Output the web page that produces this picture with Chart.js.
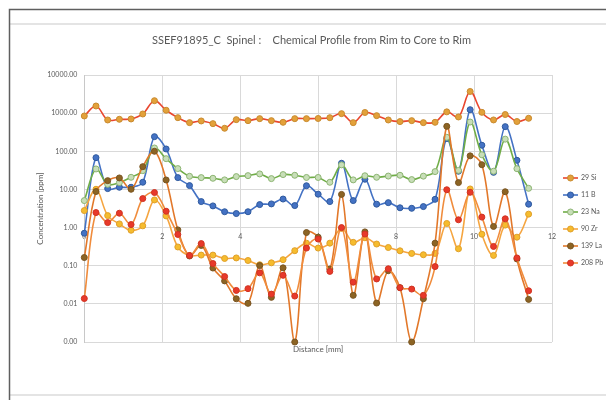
<!DOCTYPE html>
<html>
<head>
<meta charset="utf-8">
<script src="https://cdn.jsdelivr.net/npm/chart.js@4.4.1/dist/chart.umd.min.js"></script>
<style>
  html, body { margin: 0; padding: 0; background: #fff; }
  #wrap { width: 606px; height: 400px; position: relative; }
</style>
</head>
<body>
<div id="wrap"><canvas id="c" width="606" height="400"></canvas></div>
<script>
// Measurement positions along the traverse [mm]
const distance = [0, 0.3, 0.6, 0.9, 1.2, 1.5, 1.8, 2.1, 2.4, 2.7,
                  3.0, 3.3, 3.6, 3.9, 4.2, 4.5, 4.8, 5.1, 5.4, 5.7,
                  6.0, 6.3, 6.6, 6.9, 7.2, 7.5, 7.8, 8.1, 8.4, 8.7,
                  9.0, 9.3, 9.6, 9.9, 10.2, 10.5, 10.8, 11.1, 11.4];

// Concentrations [ppm] per isotope
const si29 = [843, 1540, 662, 690, 703, 950, 2120, 1190, 762, 564,
              624, 531, 401, 676, 636, 718, 636, 575, 718, 718,
              725, 760, 970, 564, 1040, 860, 662, 600, 636, 564,
              575, 1080, 794, 3700, 1050, 663, 920, 603, 733];
const b11 = [0.71, 68, 10.5, 11.4, 11.4, 15.4, 242, 115, 20.4, 12.6,
             4.8, 3.7, 2.6, 2.33, 2.6, 4.0, 4.17, 5.6, 3.77, 12.5,
             7.5, 4.8, 48.5, 5.1, 18.5, 4.1, 4.5, 3.3, 3.2, 3.55,
             5.5, 215, 30, 1230, 144, 28, 443, 58, 4.1];
const na23 = [5.1, 34.4, 13.6, 15.1, 20.8, 31.1, 122, 64, 35.2, 22.1,
              20.4, 19.6, 17.8, 21.7, 23.0, 25.5, 19.2, 24.5, 23.5, 20.6,
              20.6, 15.4, 44, 17.8, 22.8, 20.8, 22.4, 23.5, 18.1, 22.3,
              29.3, 233, 31.5, 585, 81, 30, 208, 35, 10.7];
const zr90 = [2.79, 10.1, 2.06, 1.25, 0.85, 1.11, 5.3, 2.02, 0.31, 0.185,
              0.19, 0.19, 0.155, 0.16, 0.137, 0.106, 0.119, 0.144, 0.248, 0.39,
              0.29, 0.39, 0.95, 0.41, 0.54, 0.37, 0.30, 0.246, 0.21, 0.194,
              0.21, 1.28, 0.278, 10.3, 0.67, 0.186, 1.16, 0.56, 2.25];
const la139 = [0.164, 8.8, 17.0, 20.0, 10.1, 39.6, 100, 17.7, 0.87, 0.18,
               0.34, 0.087, 0.040, 0.0136, 0.0103, 0.101, 0.0148, 0.088, 0.001, 0.74,
               0.56, 0.082, 7.4, 0.0167, 0.77, 0.0105, 0.074, 0.0265, 0.001, 0.0136,
               0.39, 450, 15.1, 76, 44.5, 1.07, 8.7, 0.15, 0.0131];
const pb208 = [0.0138, 2.47, 1.35, 2.38, 1.20, 5.75, 8.3, 2.68, 0.66, 0.185,
               0.38, 0.114, 0.052, 0.0225, 0.025, 0.065, 0.018, 0.056, 0.016, 0.29,
               0.50, 0.071, 1.0, 0.037, 0.675, 0.045, 0.083, 0.0265, 0.0244, 0.0167,
               0.095, 9.8, 1.6, 8.4, 1.88, 0.32, 1.70, 0.16, 0.022];

// Axis tick values
const yTicks = [0.001, 0.01, 0.1, 1, 10, 100, 1000, 10000];
const xTicks = [0, 2, 4, 6, 8, 10, 12];

const FONT = 'Lato, "Open Sans", "Liberation Sans", sans-serif';
const TEXT = '#595959';

function pts(values) {
  return distance.map((d, i) => ({ x: d, y: values[i] }));
}

function series(label, values, line, fill, edge, order) {
  return {
    label,
    data: pts(values),
    borderColor: line,
    borderWidth: 1.6,
    pointBackgroundColor: fill,
    pointBorderColor: edge,
    pointBorderWidth: 1,
    pointRadius: 3,
    pointHoverRadius: 3,
    tension: 0.35,
    clip: 6,
    order
  };
}

// Sheet frame behind the chart
const framePlugin = {
  id: 'frame',
  beforeDraw(chart) {
    const { ctx, width, height } = chart;
    ctx.save();
    ctx.fillStyle = '#ffffff';
    ctx.fillRect(0, 0, width, height);
    ctx.strokeStyle = '#e4e4e4';
    ctx.lineWidth = 2;
    ctx.beginPath();
    ctx.moveTo(10, 24); ctx.lineTo(width, 24);
    ctx.moveTo(10, 395); ctx.lineTo(width, 395);
    ctx.stroke();
    ctx.strokeStyle = '#5f5f5f';
    ctx.lineWidth = 1.5;
    ctx.beginPath();
    ctx.moveTo(9.5, height); ctx.lineTo(9.5, 9.5); ctx.lineTo(width, 9.5);
    ctx.stroke();
    ctx.restore();
  }
};

// Chart heading
const headingPlugin = {
  id: 'heading',
  afterDraw(chart) {
    const { ctx } = chart;
    ctx.save();
    ctx.fillStyle = TEXT;
    ctx.font = '11px ' + FONT;
    ctx.textAlign = 'center';
    ctx.textBaseline = 'middle';
    ctx.fillText('SSEF91895_C  Spinel :    Chemical Profile from Rim to Core to Rim', 311.5, 40);
    ctx.restore();
  }
};

// Legend with line + marker samples, to the right of the plot
const sideLegendPlugin = {
  id: 'sideLegend',
  afterDraw(chart) {
    const { ctx, chartArea } = chart;
    const x0 = chartArea.right + 11;
    chart.data.datasets.forEach((ds, i) => {
      const y = 178 + i * 17;
      ctx.save();
      ctx.strokeStyle = ds.borderColor;
      ctx.lineWidth = 1.6;
      ctx.beginPath();
      ctx.moveTo(x0, y); ctx.lineTo(x0 + 15, y);
      ctx.stroke();
      ctx.beginPath();
      ctx.arc(x0 + 7.5, y, 3, 0, Math.PI * 2);
      ctx.fillStyle = ds.pointBackgroundColor;
      ctx.fill();
      ctx.lineWidth = 1;
      ctx.strokeStyle = ds.pointBorderColor;
      ctx.stroke();
      ctx.fillStyle = TEXT;
      ctx.font = '7px ' + FONT;
      ctx.textBaseline = 'middle';
      ctx.textAlign = 'left';
      ctx.fillText(ds.label, x0 + 18, y);
      ctx.restore();
    });
  }
};

new Chart(document.getElementById('c'), {
  type: 'line',
  data: {
    datasets: [
      series('29 Si', si29, '#E9472F', '#E3A13A', '#C98A2E', 5),
      series('11 B', b11, '#4472C4', '#4472C4', '#2F5A9E', 4),
      series('23 Na', na23, '#70AD47', '#C8DEB8', '#8DB573', 3),
      series('90 Zr', zr90, '#F5A540', '#F6BC2E', '#E0A02A', 2),
      series('139 La', la139, '#E2782A', '#8C6424', '#7A5420', 1),
      series('208 Pb', pb208, '#F08C3C', '#E8392A', '#D03322', 0)
    ]
  },
  options: {
    responsive: false,
    devicePixelRatio: 1,
    animation: false,
    events: [],
    layout: { padding: { left: 0, top: 75, right: 54, bottom: 38 } },
    plugins: { legend: { display: false }, title: { display: false }, tooltip: { enabled: false } },
    scales: {
      x: {
        type: 'linear',
        min: 0, max: 12,
        afterBuildTicks: s => { s.ticks = xTicks.map(v => ({ value: v })); },
        afterFit: s => { s.height = 20; },
        grid: { color: '#d9d9d9', lineWidth: 1, drawTicks: false },
        border: { display: false },
        ticks: { display: false },
        title: {
          display: true, text: 'Distance [mm]', color: TEXT,
          font: { family: FONT, size: 8 }, padding: { top: 0, bottom: 7.5 }
        }
      },
      xLabels: {
        axis: 'x',
        type: 'linear',
        position: { y: 1 },
        min: 0, max: 12,
        afterBuildTicks: s => { s.ticks = xTicks.map(v => ({ value: v })); },
        grid: { display: false, drawTicks: false },
        border: { display: false },
        ticks: { color: TEXT, font: { family: FONT, size: 7 }, padding: 5, maxRotation: 0 }
      },
      y: {
        type: 'logarithmic',
        min: 0.001, max: 10000,
        afterBuildTicks: s => { s.ticks = yTicks.map(v => ({ value: v })); },
        afterFit: s => { s.width = 84.3; },
        grid: { color: '#d9d9d9', lineWidth: 1, drawTicks: false },
        border: { display: true, color: '#c8c8c8', width: 1 },
        ticks: {
          color: TEXT, font: { family: FONT, size: 7 }, padding: 7,
          callback: v => Number(v).toFixed(2)
        },
        title: {
          display: true, text: 'Concentration [ppm]', color: TEXT,
          font: { family: FONT, size: 8 }, padding: { top: 36, bottom: 0 }
        }
      }
    }
  },
  plugins: [framePlugin, headingPlugin, sideLegendPlugin]
});
</script>
</body>
</html>
